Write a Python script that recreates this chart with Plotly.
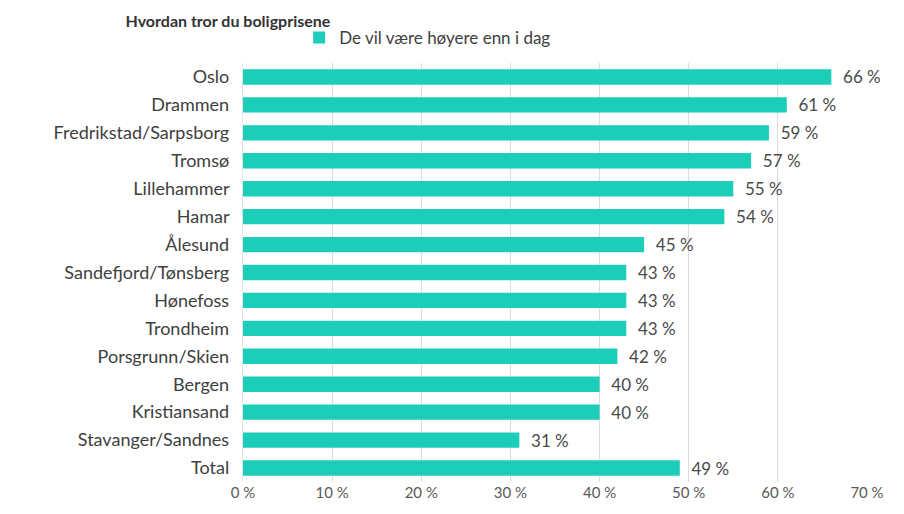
import plotly.graph_objects as go

categories = ["Oslo", "Drammen", "Fredrikstad/Sarpsborg", "Tromsø", "Lillehammer", "Hamar",
              "Ålesund", "Sandefjord/Tønsberg", "Hønefoss", "Trondheim", "Porsgrunn/Skien",
              "Bergen", "Kristiansand", "Stavanger/Sandnes", "Total"]
values = [66, 61, 59, 57, 55, 54, 45, 43, 43, 43, 42, 40, 40, 31, 49]
series_name = "De vil være høyere enn i dag"
title_text = "Hvordan tror du boligprisene"
tick_vals = [0, 10, 20, 30, 40, 50, 60, 70]
tick_text = [f"{v} %" for v in tick_vals]

FONT = "Lato, Open Sans, sans-serif"

fig = go.Figure(go.Bar(
    y=categories, x=values, orientation="h", name=series_name,
    marker=dict(color="#1ccdb9", line=dict(width=0)),
    text=[f"  {v} %" for v in values], textposition="outside",
    textangle=0, constraintext="none",
    textfont=dict(size=17, color="#4a4a4a", family=FONT),
    cliponaxis=False, showlegend=True,
))

fig.update_layout(
    width=904, height=514,
    margin=dict(l=235, r=45, t=40, b=40),
    paper_bgcolor="white", plot_bgcolor="white",
    bargap=0.45,
    title=dict(text=title_text, x=0.13, xanchor="left", y=0.985, yanchor="top",
               font=dict(size=16, color="#333333", family=FONT, weight="bold")),
    legend=dict(orientation="h", x=0.09, xanchor="left", y=1.06, yanchor="middle",
                font=dict(size=17, color="#404040", family=FONT), bgcolor="rgba(0,0,0,0)"),
    xaxis=dict(range=[0, 70], tickvals=tick_vals, ticktext=tick_text,
               showgrid=True, gridcolor="#dcdcdc", gridwidth=1, zeroline=False,
               showline=False, ticks="",
               tickfont=dict(size=15, color="#595959", family=FONT)),
    yaxis=dict(autorange="reversed", showline=True, linecolor="#e3e3e3", ticks="",
               tickfont=dict(size=18, color="#404040", family=FONT), ticksuffix="  "),
)

fig.write_html("out.html")
